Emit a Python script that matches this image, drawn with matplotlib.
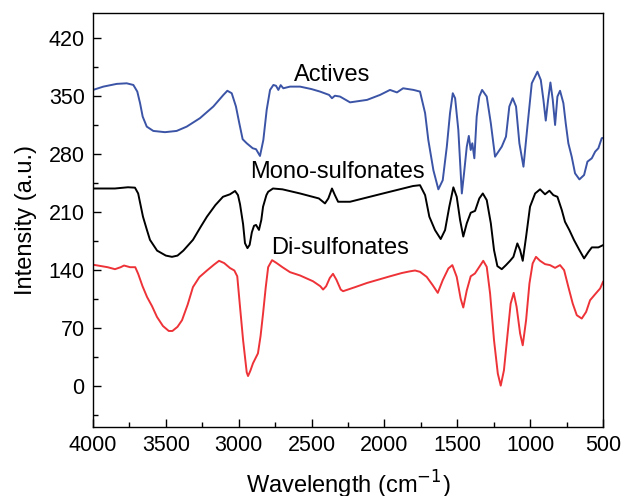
import numpy as np
import matplotlib
matplotlib.use("Agg")
import matplotlib.pyplot as plt
from matplotlib.ticker import MultipleLocator

plt.rcParams['font.family'] = ['Liberation Sans', 'DejaVu Sans']

### data (wavenumber, intensity)
actives_x = [4000, 3929, 3837, 3769, 3723, 3696, 3677, 3659, 3631, 3586, 3506, 3426, 3357,
             3266, 3174, 3105, 3078, 3048, 3019, 2996, 2973, 2945, 2904, 2881, 2854, 2831,
             2808, 2785, 2762, 2744, 2728, 2712, 2694, 2648, 2579, 2500, 2442, 2380, 2360,
             2340, 2305, 2236, 2119, 2030, 1962, 1914, 1872, 1800, 1756, 1721, 1699, 1664,
             1630, 1600, 1572, 1550, 1531, 1515, 1493, 1469, 1454, 1435, 1421, 1408, 1397,
             1383, 1367, 1349, 1330, 1298, 1270, 1241, 1195, 1166, 1143, 1120, 1097, 1074,
             1046, 1019, 989, 950, 927, 909, 893, 877, 861, 845, 829, 813, 795, 772, 756,
             738, 715, 692, 662, 630, 607, 577, 554, 532, 509, 500]
actives_y = [357, 361, 364.3, 365, 363, 355, 341, 324.8, 312.7, 307.5, 306, 307.5, 312.7,
             322.9, 337, 351, 356, 353, 337, 316.8, 297.5, 292.6, 286.6, 285.4, 277.3, 296.6,
             333, 357, 363, 362, 357, 362.8, 359, 361, 361, 358, 355, 351, 347,
             350, 349, 342, 345, 351, 357, 354, 359, 357, 355, 329, 296.6, 260,
             237, 248, 288.5, 329, 353, 347, 308.7, 232, 256, 288.5, 301.5, 284.5, 292.6,
             274.5, 324.8, 349, 357, 349, 316.8, 276.4, 288.5, 300.6, 337, 347, 337, 292.6,
             264.3, 312.7, 365, 379, 369, 345, 320, 345, 366, 345, 314.7, 349, 356, 341, 316.8,
             292.6, 276.4, 256.3, 249, 254.3, 270.4, 274.5, 282.5, 286.6, 298.7, 299]

mono_x = [4000, 3850, 3760, 3712, 3690, 3657, 3630, 3609, 3560, 3500, 3458, 3420, 3380,
          3314, 3260, 3218, 3160, 3108, 3060, 3025, 3005, 2991, 2970, 2957, 2940, 2925,
          2910, 2895, 2881, 2861, 2845, 2833, 2810, 2798, 2765, 2700, 2579, 2450, 2408,
          2385, 2360, 2340, 2318, 2236, 2010, 1804, 1756, 1721, 1692, 1653, 1614, 1584,
          1555, 1527, 1504, 1481, 1459, 1435, 1408, 1378, 1349, 1325, 1298, 1270, 1248,
          1225, 1195, 1166, 1138, 1115, 1088, 1069, 1051, 1028, 1001, 966, 932, 898, 868,
          841, 813, 783, 761, 731, 699, 662, 630, 600, 577, 532, 500]
mono_y = [238, 238, 239.5, 239, 232, 204, 188, 176, 163, 157, 155.5, 157, 163,
          176, 192, 204, 218, 228, 231, 235, 230, 219, 195, 172, 166, 170,
          185, 193, 194, 188, 200, 216, 230, 234, 238, 237, 232, 226, 220,
          226, 238, 230, 222, 222, 232, 241, 242, 230, 204, 187.8, 177, 187.8,
          216, 239.4, 228, 200, 180, 196, 208.7, 211, 226, 232, 224, 196, 163.6,
          144.3, 140.6, 145.5, 150.7, 155.5, 171.7, 163.6, 150.7, 179.7, 216, 232, 237, 231, 235.3,
          230, 228, 212, 197.8, 187.8, 175.7, 163.6, 153.6, 161.5, 166.9, 166.9, 169.6]

di_x = [4000, 3900, 3849, 3810, 3787, 3766, 3746, 3710, 3690, 3660, 3629, 3595, 3561,
        3520, 3480, 3455, 3420, 3389, 3350, 3314, 3270, 3218, 3170, 3135, 3100, 3060,
        3030, 3010, 2991, 2970, 2957, 2945, 2936, 2920, 2902, 2868, 2850, 2833, 2815,
        2798, 2771, 2740, 2700, 2648, 2579, 2490, 2440, 2421, 2400, 2375, 2353, 2330,
        2300, 2284, 2200, 2119, 1962, 1880, 1825, 1790, 1756, 1710, 1669, 1634, 1600,
        1561, 1534, 1504, 1477, 1459, 1435, 1408, 1379, 1349, 1322, 1298, 1275, 1248,
        1222, 1202, 1180, 1157, 1134, 1113, 1093, 1069, 1051, 1028, 1005, 983, 960, 932,
        898, 864, 829, 795, 767, 738, 708, 680, 646, 616, 589, 554, 520, 500]
di_y = [146, 143, 140.6, 143, 145, 144, 143, 143, 135, 120, 107, 96, 83,
        72, 66, 66, 71, 79, 98, 119, 131, 139, 146, 150.7, 148, 142,
        139, 132, 95, 55, 34.6, 16, 11.6, 18, 27, 39, 60, 87, 118,
        143, 151.5, 148, 143, 137, 133, 126, 120, 116, 120, 130, 135, 128,
        116, 114, 119, 124, 132, 136, 138, 139, 137.4, 131.3, 121.3, 112, 127.3,
        141.5, 145.5, 131.3, 105, 94.3, 115, 132, 135.4, 143.4, 150.7, 143.4, 111.2, 54.8,
        14.5, 0, 18.5, 58.8, 99, 112, 95, 62.9, 48.7, 79, 123.3, 147.5, 155.5, 150.7,
        146.7, 145.5, 142.2, 145.5, 139.4, 119.2, 99.1, 85, 81, 89, 103.1, 110.4, 117.3, 125.3]

series_labels = ["Actives", "Mono-sulfonates", "Di-sulfonates"]
x_ticks = [4000, 3500, 3000, 2500, 2000, 1500, 1000, 500]
y_ticks = [0, 70, 140, 210, 280, 350, 420]

fig = plt.figure(figsize=(6.22, 4.96), dpi=100)
ax = fig.add_axes([0.1495, 0.139, 0.82, 0.835])

ax.plot(actives_x, actives_y, color='#3b54a6', lw=1.4)
ax.plot(mono_x, mono_y, color='black', lw=1.4)
ax.plot(di_x, di_y, color='#ee3338', lw=1.4)

# curve names sit right above each trace
ax.text(2360, 375, series_labels[0], fontsize=17, ha='center', va='center')
ax.text(2325, 258, series_labels[1], fontsize=17, ha='center', va='center')
ax.text(2305, 166, series_labels[2], fontsize=17, ha='center', va='center')

ax.set_xlim(4000, 500)
ax.set_ylim(-50, 450)
ax.set_xticks(x_ticks)
ax.set_yticks(y_ticks)
ax.xaxis.set_minor_locator(MultipleLocator(250))
ax.yaxis.set_minor_locator(MultipleLocator(35))
ax.tick_params(which='major', direction='in', length=6, width=1, labelsize=15.5, pad=6)
ax.tick_params(which='minor', direction='in', length=3.5, width=1)
for sp in ax.spines.values():
    sp.set_linewidth(1)

ax.set_xlabel("Wavelength (cm$^{-1}$)", fontsize=17)
ax.set_ylabel("Intensity (a.u.)", fontsize=17)
ax.xaxis.set_label_coords(0.5, -0.10)
ax.yaxis.set_label_coords(-0.11, 0.5)

fig.savefig("out.png", dpi=100)
